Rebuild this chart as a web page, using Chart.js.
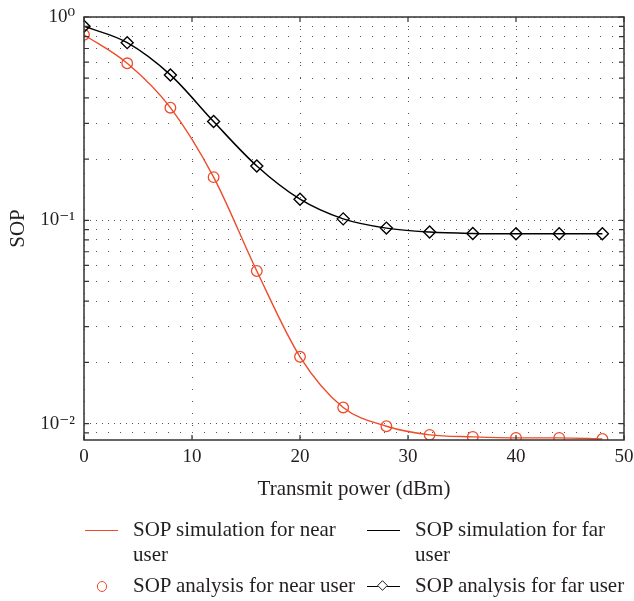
<!DOCTYPE html>
<html><head><meta charset="utf-8">
<script src="https://cdn.jsdelivr.net/npm/chart.js@4.4.1/dist/chart.umd.min.js"></script>
<style>
html,body{margin:0;padding:0;background:#fff;}
#wrap{position:relative;width:634px;height:601px;overflow:hidden;}
#c{position:absolute;left:0;top:0;}
.lg{position:absolute;font-family:"Liberation Serif","DejaVu Serif",serif;font-size:21px;color:#231f20;line-height:25px;white-space:nowrap;}
.ln{position:absolute;height:1.5px;}
.circ{position:absolute;width:8.5px;height:8.5px;border:1.3px solid #ee4b2b;border-radius:50%;box-sizing:content-box;}
.dia{position:absolute;width:7px;height:7px;border:1.4px solid #000;background:#fff;transform:rotate(45deg) scale(0.85,0.85);box-sizing:content-box;}
</style>
</head><body>
<div id="wrap">
<canvas id="c" width="634" height="601"></canvas>
<div class="ln" style="left:85px;top:529.5px;width:33px;background:#ee4b2b;"></div>
<div class="lg" style="left:133px;top:517px;">SOP simulation for near<br>user</div>
<div class="ln" style="left:367px;top:529.5px;width:33px;background:#000;"></div>
<div class="lg" style="left:415px;top:517px;">SOP simulation for far<br>user</div>
<div class="circ" style="left:96.5px;top:581px;"></div>
<div class="lg" style="left:133px;top:573px;">SOP analysis for near user</div>
<div class="ln" style="left:367px;top:585.5px;width:33px;background:#000;"></div>
<div class="dia" style="left:378px;top:580.5px;"></div>
<div class="lg" style="left:415px;top:573px;">SOP analysis for far user</div>
</div>
<script>
const xValues = [0, 4, 8, 12, 16, 20, 24, 28, 32, 36, 40, 44, 48];
const nearUserSOP = [0.818, 0.592, 0.358, 0.163, 0.0563, 0.0213, 0.0120, 0.0097, 0.0088, 0.0086, 0.0085, 0.0085, 0.0084];
const farUserSOP = [0.90, 0.748, 0.519, 0.306, 0.185, 0.127, 0.1016, 0.0915, 0.0875, 0.0861, 0.0858, 0.0858, 0.0858];
const xTicks = [0, 10, 20, 30, 40, 50];
const yTicks = [0.009, 0.01, 0.02, 0.03, 0.04, 0.05, 0.06, 0.07, 0.08, 0.09, 0.1, 0.2, 0.3, 0.4, 0.5, 0.6, 0.7, 0.8, 0.9, 1];
const yMajorTicks = [0.01, 0.1, 1];
const yMajorLabels = ['10\u207B\u00B2', '10\u207B\u00B9', '10\u2070'];
const seriesNames = ['SOP simulation for near user', 'SOP analysis for near user', 'SOP simulation for far user', 'SOP analysis for far user'];

const RED = '#ee4b2b';
const FONT = '"Liberation Serif","DejaVu Serif",serif';
const TXT = '#231f20';
const pts = arr => xValues.map((x, i) => ({x: x, y: arr[i]}));

function majorLabel(v) {
  for (let i = 0; i < yMajorTicks.length; i++) {
    if (Math.abs(Math.log10(v) - Math.log10(yMajorTicks[i])) < 1e-6) return yMajorLabels[i];
  }
  return '';
}
function noPad(s) { s.paddingLeft = 0; s.paddingRight = 0; s.paddingTop = 0; s.paddingBottom = 0; }

const frame = {
  id: 'frame',
  afterDraw(chart) {
    const {ctx, chartArea: a, scales} = chart;
    ctx.save();
    ctx.strokeStyle = '#333';
    ctx.lineWidth = 1.5;
    ctx.beginPath();
    ctx.rect(a.left, a.top, a.right - a.left, a.bottom - a.top);
    ctx.stroke();
    ctx.lineWidth = 1.2;
    ctx.beginPath();
    scales.y.ticks.forEach(t => {
      const py = scales.y.getPixelForValue(t.value);
      ctx.moveTo(a.left, py); ctx.lineTo(a.left + 5, py);
      ctx.moveTo(a.right, py); ctx.lineTo(a.right - 5, py);
    });
    scales.x.ticks.forEach(t => {
      const px = scales.x.getPixelForValue(t.value);
      ctx.moveTo(px, a.bottom); ctx.lineTo(px, a.bottom - 5);
      ctx.moveTo(px, a.top); ctx.lineTo(px, a.top + 5);
    });
    ctx.stroke();
    ctx.restore();
  }
};

new Chart(document.getElementById('c'), {
  type: 'line',
  data: {
    datasets: [
      {label: seriesNames[0], data: pts(nearUserSOP), borderColor: RED, borderWidth: 1.4, pointRadius: 0, cubicInterpolationMode: 'monotone', order: 3},
      {label: seriesNames[1], data: pts(nearUserSOP), borderColor: RED, backgroundColor: 'rgba(0,0,0,0)', showLine: false, pointStyle: 'circle', pointRadius: 5.3, pointBorderWidth: 1.3, order: 2},
      {label: seriesNames[2], data: pts(farUserSOP), borderColor: '#000', borderWidth: 1.5, pointRadius: 0, cubicInterpolationMode: 'monotone', order: 1},
      {label: seriesNames[3], data: pts(farUserSOP), borderColor: '#000', backgroundColor: 'rgba(0,0,0,0)', borderWidth: 1.5, showLine: false, pointStyle: 'rectRot', pointRadius: 6, pointBorderWidth: 1.4, order: 0}
    ]
  },
  options: {
    responsive: false,
    animation: false,
    events: [],
    layout: {padding: {left: 0, right: 10, top: 17, bottom: 99}},
    plugins: {legend: {display: false}, tooltip: {enabled: false}},
    scales: {
      x: {
        type: 'linear', min: 0, max: 50,
        afterBuildTicks(s) { s.ticks = xTicks.map(v => ({value: v})); },
        afterFit(s) { s.height = 62; noPad(s); },
        ticks: {autoSkip: false, maxRotation: 0, padding: 6, color: TXT, font: {family: FONT, size: 19}},
        grid: {color: '#555', lineWidth: 1, drawTicks: false},
        border: {display: false, dash: [1, 11]},
        title: {display: true, text: 'Transmit power (dBm)', color: TXT, font: {family: FONT, size: 21}, padding: {top: 0, bottom: 0}}
      },
      y: {
        type: 'logarithmic', min: 0.0083, max: 1, position: 'left',
        afterBuildTicks(s) { s.ticks = yTicks.map(v => ({value: v})); },
        afterFit(s) { s.width = 84; noPad(s); },
        ticks: {autoSkip: false, padding: 9, color: TXT, font: {family: FONT, size: 19}, callback: v => majorLabel(v)},
        grid: {color: '#555', lineWidth: 1, drawTicks: false},
        border: {display: false, dash: [1, 11]},
        title: {display: true, text: 'SOP', color: TXT, font: {family: FONT, size: 21}, padding: {top: 6, bottom: 0}}
      },
      y2: {
        type: 'logarithmic', min: 0.0083, max: 1, position: 'left',
        afterBuildTicks(s) { s.ticks = yMajorTicks.map(v => ({value: v})); },
        afterFit(s) { s.width = 0; noPad(s); },
        ticks: {display: false},
        grid: {color: '#555', lineWidth: 1, drawTicks: false},
        border: {display: false, dash: [1, 5]}
      }
    }
  },
  plugins: [frame]
});
</script>
</body></html>
